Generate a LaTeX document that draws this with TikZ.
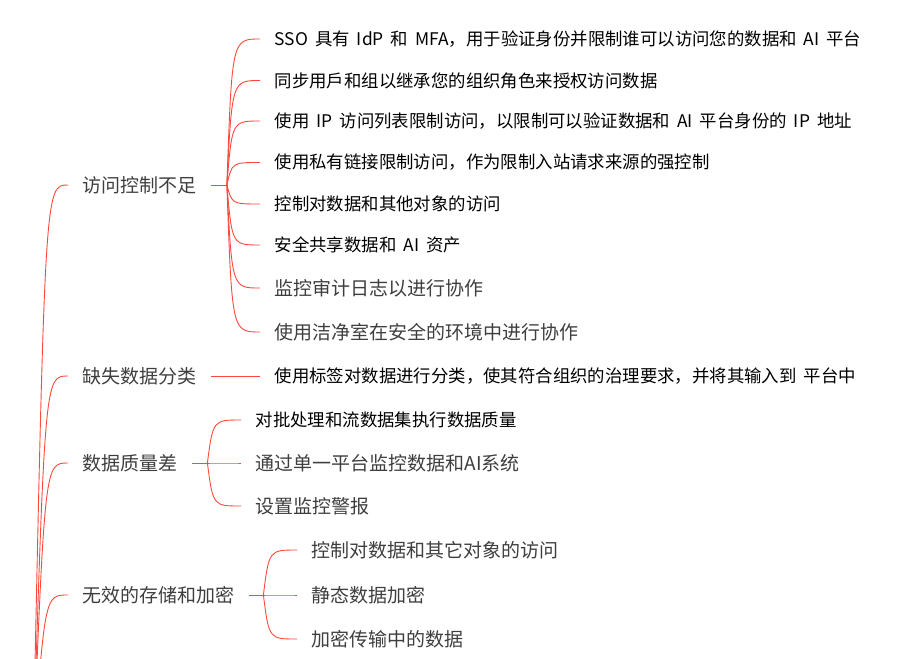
\documentclass[tikz,border=0pt]{standalone}
\usepackage{fontspec}
\setmainfont{Noto Sans CJK SC}[WordSpace=1.8]
\usetikzlibrary{calc}
\definecolor{linered}{RGB}{255,72,60}
\definecolor{textgray}{RGB}{62,62,62}

\begin{document}
\begin{tikzpicture}
      [
        x=1pt, y=-1pt,
        darkitem/.style={anchor=west, inner xsep=14.5pt, text=black, font=\fontsize{17.4}{20}\selectfont},
        grayitem/.style={anchor=west, inner xsep=14.5pt, text=textgray, font=\fontsize{19}{22}\selectfont},
        branch/.style={draw=linered, line width=0.9pt}
      ]
      \useasboundingbox (0,0) rectangle (920,658);
      \coordinate (root) at (33,760);
      % categories
      \node [grayitem] (acc) at (68,185) {访问控制不足};
      \node [grayitem] (cls) at (68,376) {缺失数据分类};
      \node [grayitem] (qual) at (68,463) {数据质量差};
      \node [grayitem] (enc) at (68,595) {无效的存储和加密};
      % access items
      \foreach \n/\y/\s/\t in {
          acc1/39/darkitem/{SSO 具有 IdP 和 MFA，用于验证身份并限制谁可以访问您的数据和 AI 平台},
          acc2/80.5/darkitem/{同步用戶和组以继承您的组织角色来授权访问数据},
          acc3/121/darkitem/{使用 IP 访问列表限制访问，以限制可以验证数据和 AI 平台身份的 IP 地址},
          acc4/162.5/darkitem/{使用私有链接限制访问，作为限制入站请求来源的强控制},
          acc5/204/darkitem/{控制对数据和其他对象的访问},
          acc6/245/darkitem/{安全共享数据和 AI 资产},
          acc7/288/grayitem/{监控审计日志以进行协作},
          acc8/332/grayitem/{使用洁净室在安全的环境中进行协作}} {
          \node [\s] (\n) at (260,\y) {\t};
      }
      % classification item
      \node [darkitem] (cls1) at (260,376) {使用标签对数据进行分类，使其符合组织的治理要求，并将其输入到 平台中};
      % quality items
      \node [darkitem] (qual1) at (241,420) {对批处理和流数据集执行数据质量};
      \node [grayitem] (qual2) at (241,463) {通过单一平台监控数据和AI系统};
      \node [grayitem] (qual3) at (241,506) {设置监控警报};
      % encryption items
      \node [grayitem] (enc1) at (297,550) {控制对数据和其它对象的访问};
      \node [grayitem] (enc2) at (297,595) {静态数据加密};
      \node [grayitem] (enc3) at (297,639) {加密传输中的数据};
      % trunk
      \foreach \n in {acc,cls,qual,enc} {
          \draw [branch] (root) .. controls ([xshift=-23pt]\n.west) and ([xshift=-23pt]\n.west) .. (\n.west);
      }
      % edges
      \coordinate (accb) at ([xshift=15.5pt]acc.east);
      \coordinate (qualb) at ([xshift=15pt]qual.east);
      \coordinate (encb) at ([xshift=14pt]enc.east);
      \draw [branch] (acc.east) -- (accb);
      \draw [branch] (cls.east) -- (cls1.west);
      \draw [branch] (qual.east) -- (qualb);
      \draw [branch] (enc.east) -- (encb);
      \foreach \i in {1,...,8} {
          \draw [branch] (accb) .. controls ([xshift=-28pt]acc\i.west) and ([xshift=-28pt]acc\i.west) .. (acc\i.west);
      }
      \foreach \i in {1,2,3} {
          \draw [branch] (qualb) .. controls ([xshift=-28pt]qual\i.west) and ([xshift=-28pt]qual\i.west) .. (qual\i.west);
          \draw [branch] (encb) .. controls ([xshift=-28pt]enc\i.west) and ([xshift=-28pt]enc\i.west) .. (enc\i.west);
      }
    \end{tikzpicture}
\end{document}
